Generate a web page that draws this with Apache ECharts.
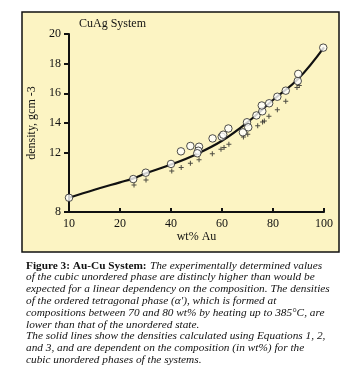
<!DOCTYPE html>
<html>
<head>
<meta charset="utf-8">
<script src="https://cdn.jsdelivr.net/npm/echarts@6/dist/echarts.min.js"></script>
<style>
html,body{margin:0;padding:0;background:#fff;}
#c{width:352px;height:389px;}
</style>
</head>
<body>
<div id="c"></div>
<script>
// Data (wt% Au vs density)
var unorderedCircles = [
  [0, 8.96], [25.2, 10.22], [30.1, 10.65], [40.0, 11.24], [43.9, 12.09],
  [47.6, 12.45], [51.0, 12.40], [50.7, 12.13], [50.3, 11.96], [56.3, 12.96],
  [59.9, 13.08], [60.5, 13.21], [62.5, 13.63], [68.2, 13.37], [69.8, 14.05],
  [70.3, 13.71], [73.5, 14.51], [75.8, 14.79], [75.6, 15.18], [78.5, 15.33],
  [81.7, 15.77], [85.0, 16.18], [89.7, 16.83], [89.9, 17.31], [99.7, 19.08]
];
var orderedPlus = [
  [25.5, 9.82], [30.2, 10.16], [40.3, 10.76], [44.0, 11.0], [47.6, 11.28],
  [51.0, 11.53], [56.2, 11.93], [59.6, 12.23], [60.8, 12.34], [62.7, 12.57],
  [68.4, 13.05], [70.1, 13.25], [74.0, 13.82], [75.9, 14.07], [76.6, 14.14],
  [78.4, 14.45], [81.7, 14.9], [85.0, 15.47], [89.4, 16.4], [90.3, 16.52]
];
var calcLine = [
  [0, 8.96], [10, 9.5], [20, 10.0], [25, 10.25], [30, 10.6], [40, 11.2],
  [50, 11.9], [60, 12.8], [70, 14.05], [80, 15.55], [90, 17.0], [100, 19.1]
];
var xTickValues = [0, 20, 40, 60, 80, 100];
var xTickLabels = ['10', '20', '40', '60', '80', '100'];
var yTickValues = [8, 12, 14, 16, 18, 20];
var captionLines = [
  '{b|Figure 3: Au-Cu System:} {i|The experimentally determined values}',
  '{i|of the cubic unordered phase are distincly higher than would be}',
  '{i|expected for a linear dependency on the composition. The densities}',
  "{i|of the ordered tetragonal phase (\u03b1'), which is formed at}",
  '{i|compositions between 70 and 80 wt% by heating up to 385\u00b0C, are}',
  '{i|lower than that of the unordered state.}',
  '{i|The solid lines show the densities calculated using Equations 1, 2,}',
  '{i|and 3, and are dependent on the composition (in wt%) for the}',
  '{i|cubic unordered phases of the systems.}'
];

var serif = '"Liberation Serif", "DejaVu Serif", serif';
var chart = echarts.init(document.getElementById('c'), null, {renderer: 'canvas'});

var graphics = [
  {type: 'rect', shape: {x: 22, y: 12, width: 317, height: 240}, z: -10,
   style: {fill: '#fcf4c3', stroke: '#111', lineWidth: 1.5}},
  {type: 'text', left: 79, top: 18, z: 10,
   style: {text: 'CuAg System', font: '12px ' + serif, fill: '#111'}}
];
captionLines.forEach(function (t, i) {
  graphics.push({
    type: 'text', x: 26, y: 265.7 + i * 11.8, z: 10,
    style: {
      text: t, verticalAlign: 'middle', fill: '#111',
      rich: {
        b: {fontFamily: serif, fontSize: 11.3, fontWeight: 'bold', fill: '#111'},
        i: {fontFamily: serif, fontSize: 11.3, fontStyle: 'italic', fill: '#111'}
      }
    }
  });
});

var option = {
  animation: false,
  grid: {left: 69, right: 28, top: 34, bottom: 177, containLabel: false},
  graphic: graphics,
  xAxis: {
    type: 'value', min: 0, max: 100, interval: 20,
    name: 'wt% Au', nameLocation: 'middle', nameGap: 18,
    nameTextStyle: {fontFamily: serif, fontSize: 12, color: '#111'},
    axisLine: {lineStyle: {color: '#111', width: 2}},
    axisTick: {inside: true, length: 4, lineStyle: {color: '#111', width: 2}},
    axisLabel: {fontFamily: serif, fontSize: 12, color: '#111', margin: 6,
      formatter: function (v) { var k = xTickValues.indexOf(v); return k >= 0 ? xTickLabels[k] : ''; }},
    splitLine: {show: false}
  },
  yAxis: {
    type: 'value', min: 8, max: 20, interval: 2,
    name: 'density, gcm -3', nameLocation: 'middle', nameGap: 25,
    nameTextStyle: {fontFamily: serif, fontSize: 12, color: '#111'},
    axisLine: {lineStyle: {color: '#111', width: 2}},
    axisTick: {length: 5, customValues: yTickValues, lineStyle: {color: '#111', width: 2}},
    axisLabel: {fontFamily: serif, fontSize: 12, color: '#111', margin: 8, customValues: yTickValues},
    splitLine: {show: false}
  },
  series: [
    {type: 'line', data: calcLine, smooth: 0.4, symbol: 'none', z: 2,
     lineStyle: {color: '#111', width: 2.2}},
    {type: 'scatter', data: orderedPlus, z: 3,
     symbol: 'path://M4,0h2v4h4v2h-4v4h-2v-4h-4v-2h4z', symbolSize: 5,
     itemStyle: {color: '#222'}},
    {type: 'scatter', data: unorderedCircles, z: 4,
     symbol: 'circle', symbolSize: 7.5,
     itemStyle: {color: '#fff', borderColor: '#222', borderWidth: 1}}
  ]
};
chart.setOption(option);
</script>
</body>
</html>
